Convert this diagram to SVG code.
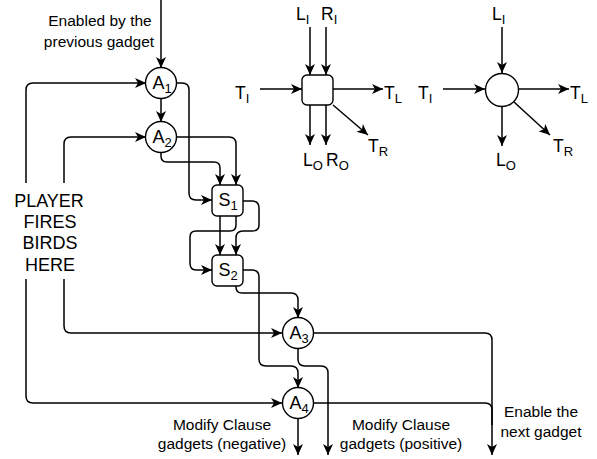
<svg xmlns="http://www.w3.org/2000/svg" width="597" height="459" viewBox="0 0 597 459">
<defs>
<marker id="arr" markerUnits="userSpaceOnUse" markerWidth="12" markerHeight="11" refX="11" refY="5" orient="auto" viewBox="0 0 12 10">
<path d="M0,0 L11,5 L0,10 L3,5 z" fill="#000"/>
</marker>
<style>
.c{fill:none;stroke:#000;stroke-width:1.5}
.a{marker-end:url(#arr)}
.n{fill:#fff;stroke:#000;stroke-width:1.4}
.t{font-family:"Liberation Sans",Arial,sans-serif;fill:#000}
.lbl{font-size:15.5px;text-anchor:middle}
.big{font-size:18px;text-anchor:middle}
.nl{font-size:18px;text-anchor:middle}
.gl{font-size:17.5px}
.s{font-size:13px}
</style>
</defs>
<rect width="597" height="459" fill="#fff"/>
<g id="connectors">
<path class="c a" d="M161,0 V68"/>
<path class="c a" d="M161,98 V122"/>
<path class="c a" d="M176,83 H182 Q189,83 189,90 V193 Q189,200 196,200 H212"/>
<path class="c a" d="M176,137 H229 Q236,137 236,144 V185"/>
<path class="c a" d="M161,152 V156 Q161,162 167,162 H214 Q220,162 220,168 V185"/>
<path class="c a" d="M220,216 V255"/>
<path class="c a" d="M236,216 V225 Q236,231 230,231 H196 Q190,231 190,237 V263 Q190,270 196,270 H212"/>
<path class="c a" d="M243,201 H252 Q259,201 259,208 V225 Q259,231 252,231 H243 Q236,231 236,238 V255"/>
<path class="c a" d="M243,270 H252 Q259,270 259,277 V359 Q259,366 266,366 H291 Q298,366 298,373 V388"/>
<path class="c a" d="M236,286 V287 Q236,293 242,293 H291 Q298,293 298,300 V318"/>
<path class="c a" d="M314,333 H485 Q492,333 492,340 V455"/>
<path class="c a" d="M298,349 V359 Q298,366 305,366 H321 Q328,366 328,373 V455"/>
<path class="c" d="M314,403 H485 Q492,403 492,410 V425"/>
<path class="c a" d="M298,419 V455"/>
<path class="c a" d="M26,183 V90 Q26,83 33,83 H146"/>
<path class="c a" d="M64,183 V144 Q64,137 71,137 H146"/>
<path class="c a" d="M64,279 V326 Q64,333 71,333 H282"/>
<path class="c a" d="M26,279 V396 Q26,403 33,403 H282"/>
<path class="c a" d="M310,27 V75"/>
<path class="c a" d="M326,27 V75"/>
<path class="c a" d="M260,89 H302"/>
<path class="c a" d="M333,89 H383"/>
<path class="c a" d="M310,105 V145"/>
<path class="c a" d="M326,105 V145"/>
<path class="c a" d="M333,105 L368,135"/>
<path class="c a" d="M502,27 V73"/>
<path class="c a" d="M443,89 H485"/>
<path class="c a" d="M518,89 H569"/>
<path class="c a" d="M502,106 V146"/>
<path class="c a" d="M514,102 L550,135"/>
</g>
<g id="A1"><circle class="n" cx="161" cy="83" r="15.5"/><text class="t nl" x="162" y="89">A<tspan class="s" dy="4">1</tspan></text></g>
<g id="A2"><circle class="n" cx="161" cy="137" r="15.5"/><text class="t nl" x="162" y="143">A<tspan class="s" dy="4">2</tspan></text></g>
<g id="S1"><rect class="n" x="212" y="185" width="31" height="31" rx="5"/><text class="t nl" x="228" y="206">S<tspan class="s" dy="4">1</tspan></text></g>
<g id="S2"><rect class="n" x="212" y="255" width="31" height="31" rx="5"/><text class="t nl" x="228" y="276">S<tspan class="s" dy="4">2</tspan></text></g>
<g id="A3"><circle class="n" cx="298" cy="333" r="15.5"/><text class="t nl" x="299" y="339">A<tspan class="s" dy="4">3</tspan></text></g>
<g id="A4"><circle class="n" cx="298" cy="403" r="15.5"/><text class="t nl" x="299" y="409">A<tspan class="s" dy="4">4</tspan></text></g>
<g id="squareGadget"><rect class="n" x="302" y="75" width="31" height="30" rx="5"/></g>
<g id="circleGadget"><circle class="n" cx="502" cy="90" r="16.5"/></g>
<g id="labels">
<text class="t lbl" x="100" y="26">Enabled by the</text>
<text class="t lbl" x="99" y="47">previous gadget</text>
<text class="t big" x="49" y="207">PLAYER</text>
<text class="t big" x="50" y="228">FIRES</text>
<text class="t big" x="50" y="249">BIRDS</text>
<text class="t big" x="50" y="271">HERE</text>
<text class="t lbl" x="222" y="430">Modify Clause</text>
<text class="t lbl" x="222" y="449">gadgets (negative)</text>
<text class="t lbl" x="401" y="430">Modify Clause</text>
<text class="t lbl" x="401" y="449">gadgets (positive)</text>
<text class="t lbl" x="541" y="417">Enable the</text>
<text class="t lbl" x="541" y="437">next gadget</text>
<text class="t gl" x="296" y="20">L<tspan class="s" dy="4">I</tspan></text>
<text class="t gl" x="321" y="20">R<tspan class="s" dy="4">I</tspan></text>
<text class="t gl" x="235" y="99">T<tspan class="s" dy="4">I</tspan></text>
<text class="t gl" x="384" y="99">T<tspan class="s" dy="4">L</tspan></text>
<text class="t gl" x="368" y="152">T<tspan class="s" dy="4">R</tspan></text>
<text class="t gl" x="303" y="166">L<tspan class="s" dy="4">O</tspan></text>
<text class="t gl" x="326" y="166">R<tspan class="s" dy="4">O</tspan></text>
<text class="t gl" x="492" y="20">L<tspan class="s" dy="4">I</tspan></text>
<text class="t gl" x="418" y="99">T<tspan class="s" dy="4">I</tspan></text>
<text class="t gl" x="570" y="99">T<tspan class="s" dy="4">L</tspan></text>
<text class="t gl" x="553" y="152">T<tspan class="s" dy="4">R</tspan></text>
<text class="t gl" x="496" y="166">L<tspan class="s" dy="4">O</tspan></text>
</g>
</svg>
